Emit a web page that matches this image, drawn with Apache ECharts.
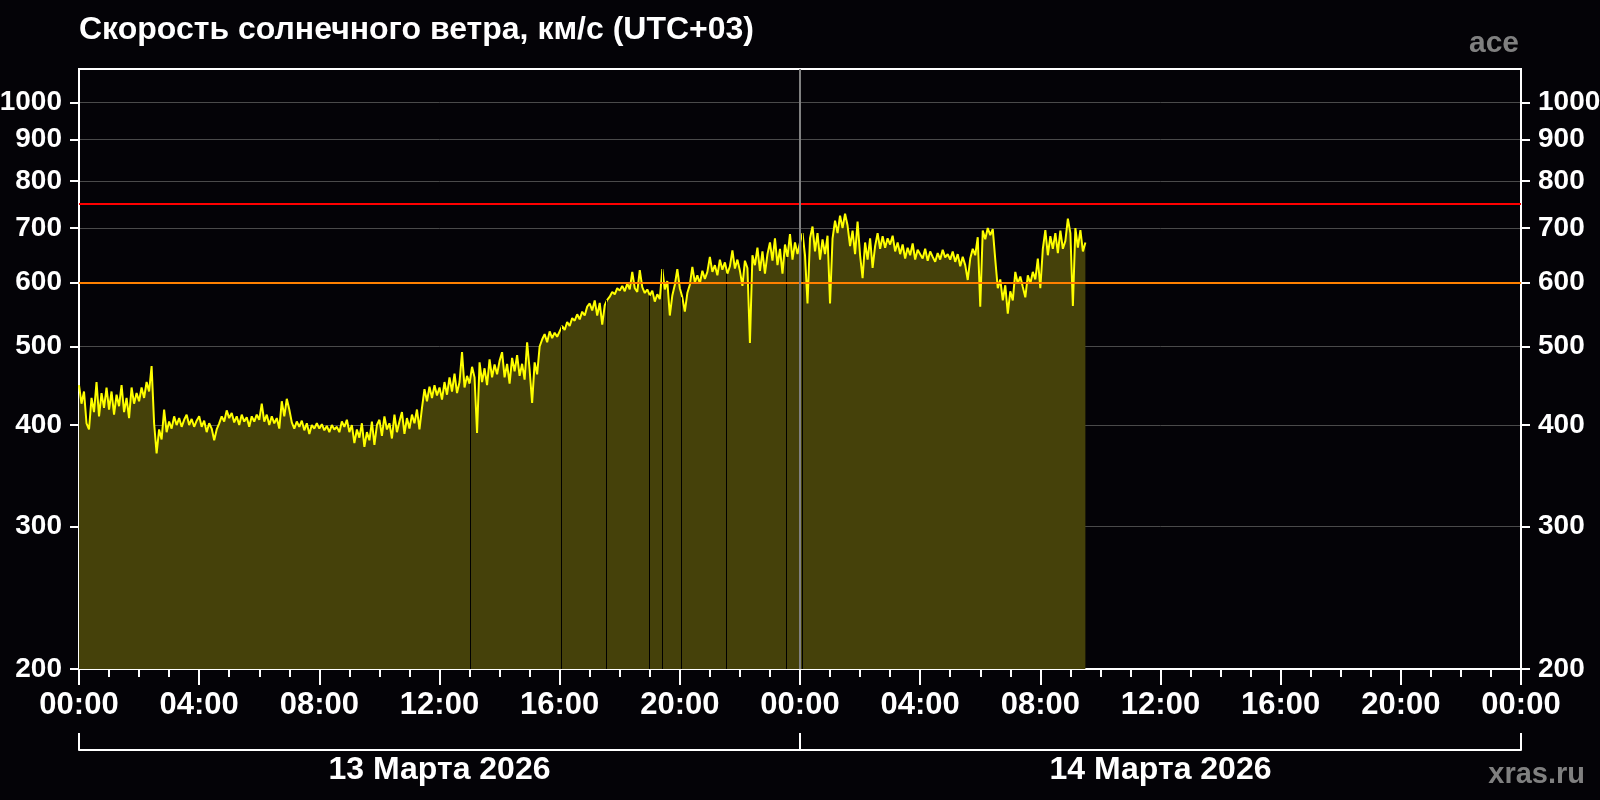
<!DOCTYPE html>
<html><head><meta charset="utf-8">
<script src="https://cdn.jsdelivr.net/npm/echarts@6/dist/echarts.min.js"></script>
<style>html,body{margin:0;padding:0;background:#040307;}#c{width:1600px;height:800px;}</style>
</head><body><div id="c"></div>
<script>
// ---- text ----
const titleText = 'Скорость солнечного ветра, км/с (UTC+03)';
const sourceLabel = 'ace';
const siteLabel = 'xras.ru';
const dayLabels = ['13 Марта 2026', '14 Марта 2026'];
const yTicks = [200, 300, 400, 500, 600, 700, 800, 900, 1000];

// ---- data: solar wind speed, km/s, every 5 minutes (hours from 13 March 00:00, UTC+03) ----
const stepMinutes = 5;
const v13_00 = [
  448, 425, 440, 402, 395, 432, 415, 452, 410, 438, 420, 445,
  418, 440, 412, 436, 422, 448, 415, 432, 408, 445, 425, 438,
  428, 445, 432, 452, 440, 473, 402, 369, 395, 384, 418, 392,
  404, 396, 410, 400, 408, 398, 406, 412, 400, 407, 398, 405,
  410, 398, 405, 392, 402, 396, 383, 395, 402, 410, 404, 417,
  408, 414, 403, 410, 400, 412, 404, 409, 398, 410, 404, 412];
const v13_06 = [
  406, 425, 404, 412, 400, 410, 402, 408, 396, 428, 410, 431,
  418, 403, 396, 404, 398, 405, 394, 402, 390, 400, 396, 402,
  396, 401, 394, 399, 392, 400, 395, 398, 392, 404, 398, 406,
  392, 400, 380, 395, 386, 402, 376, 392, 383, 404, 378, 400,
  406, 388, 410, 395, 402, 385, 412, 392, 404, 415, 390, 408,
  396, 412, 402, 418, 395, 420, 443, 428, 446, 432, 448, 435];
const v13_12 = [
  445, 430, 452, 436, 458, 440, 463, 438, 452, 492, 445, 460,
  450, 472, 458, 391, 478, 452, 470, 448, 482, 458, 475, 462,
  480, 492, 458, 476, 450, 484, 466, 488, 460, 476, 455, 506,
  468, 426, 478, 462, 500, 510, 518, 506, 522, 512, 520, 514,
  522, 530, 524, 536, 530, 542, 538, 548, 540, 552, 546, 560,
  565, 554, 570, 546, 566, 532, 562, 571, 576, 584, 580, 590];
const v13_18 = [
  586, 594, 585, 598, 588, 618, 590, 584, 621, 592, 582, 588,
  578, 586, 568, 580, 572, 623, 588, 602, 546, 578, 596, 623,
  590, 575, 552, 582, 596, 627, 600, 612, 598, 620, 606, 618,
  645, 618, 630, 612, 640, 622, 635, 615, 628, 657, 624, 640,
  620, 594, 638, 625, 505, 648, 630, 662, 620, 655, 615, 650,
  672, 638, 680, 630, 660, 615, 668, 645, 688, 640, 672, 650];
const v14_00 = [
  672, 690, 648, 565, 680, 703, 655, 690, 640, 678, 650, 685,
  565, 680, 715, 690, 725, 700, 729, 705, 665, 695, 650, 713,
  648, 607, 672, 640, 680, 625, 665, 690, 660, 684, 662, 680,
  668, 685, 655, 672, 650, 668, 642, 662, 648, 670, 640, 658,
  650, 642, 660, 638, 655, 645, 636, 652, 640, 658, 644, 650,
  640, 655, 636, 650, 628, 645, 630, 604, 642, 660, 648, 682];
const v14_06 = [
  560, 695, 678, 700, 686, 698, 640, 590, 605, 570, 595, 549,
  585, 570, 618, 598, 610, 592, 575, 612, 598, 618, 605, 642,
  590, 660, 696, 648, 684, 660, 690, 652, 695, 660, 675, 719,
  690, 561, 700, 662, 696, 655, 672];
const blockStartHours = [0, 6, 12, 18, 24, 30];
// times (hours) of missing measurements
const gapHours = [13.03, 16.06, 17.55, 18.98, 19.43, 20.06, 21.55, 23.55, 24.09];
const thresholdRed = 750;
const thresholdOrange = 600;
const dayBoundaryHour = 24;

// ---- build ----
const FF = "'Liberation Sans', Arial, sans-serif";
const blocks = [v13_00, v13_06, v13_12, v13_18, v14_00, v14_06];
const data = [];
blocks.forEach((arr, b) => arr.forEach((v, i) => data.push([blockStartHours[b] + i * stepMinutes / 60, v])));

function nearestValue(h) {
  let best = data[0];
  for (const d of data) if (Math.abs(d[0] - h) < Math.abs(best[0] - h)) best = d;
  return best[1];
}
const gapLines = gapHours.map(h => [
  { coord: [h, yTicks[0]], lineStyle: { color: '#000000', width: 1, type: 'solid' } },
  { coord: [h, nearestValue(h)] }
]);

function yAxisOpt(pos) {
  return {
    type: 'log', logBase: 10, min: 200, max: 1100, position: pos,
    axisLine: { show: true, lineStyle: { color: '#ffffff', width: 2 } },
    axisTick: { show: true, inside: false, length: 9, customValues: yTicks, lineStyle: { color: '#ffffff', width: 2 } },
    axisLabel: { show: true, customValues: yTicks, formatter: v => String(Math.round(v)), color: '#ffffff', fontSize: 28, fontWeight: 'bold', fontFamily: FF, margin: 17 },
    splitLine: { show: pos === 'left', lineStyle: { color: '#4a4a4a', width: 1 } },
    minorTick: { show: false }, minorSplitLine: { show: false }
  };
}

const chart = echarts.init(document.getElementById('c'), null, { renderer: 'canvas' });
chart.setOption({
  animation: false,
  backgroundColor: '#040307',
  title: [
    { text: titleText, left: 79, top: 14, padding: 0, textStyle: { color: '#ffffff', fontSize: 32, fontWeight: 'bold', fontFamily: FF } },
    { text: sourceLabel, right: 81, top: 29, padding: 0, textStyle: { color: '#808080', fontSize: 30, fontWeight: 'bold', fontFamily: FF } },
    { text: siteLabel, right: 15, top: 760, padding: 0, textStyle: { color: '#808080', fontSize: 29, fontWeight: 'bold', fontFamily: FF } }
  ],
  grid: { left: 79, right: 79, top: 69, bottom: 131, containLabel: false, outerBoundsMode: 'none',
          show: true, borderColor: '#ffffff', borderWidth: 2, backgroundColor: 'transparent' },
  xAxis: [
    {
      type: 'value', min: 0, max: 48, interval: 4, position: 'bottom',
      axisLine: { lineStyle: { color: '#ffffff', width: 2 } },
      axisTick: { show: true, length: 16, lineStyle: { color: '#ffffff', width: 2 } },
      minorTick: { show: true, splitNumber: 4, length: 8, lineStyle: { color: '#ffffff', width: 2 } },
      axisLabel: {
        color: '#ffffff', fontSize: 31, fontWeight: 'bold', fontFamily: FF, margin: 21,
        showMinLabel: true, showMaxLabel: true,
        formatter: v => String(v % 24).padStart(2, '0') + ':00'
      },
      splitLine: { show: false }
    },
    {
      type: 'category', data: dayLabels, position: 'bottom', offset: 81, boundaryGap: true,
      axisLine: { lineStyle: { color: '#ffffff', width: 2 } },
      axisTick: { show: true, inside: true, length: 17, alignWithLabel: false, lineStyle: { color: '#ffffff', width: 2 } },
      axisLabel: { color: '#ffffff', fontSize: 32, fontWeight: 'bold', fontFamily: FF, margin: 4, interval: 0 },
      splitLine: { show: false }
    }
  ],
  yAxis: [yAxisOpt('left'), yAxisOpt('right')],
  series: [{
    type: 'line', data: data, xAxisIndex: 0, yAxisIndex: 0,
    showSymbol: false, symbol: 'none',
    lineStyle: { color: '#ffff00', width: 2 },
    itemStyle: { color: '#ffff00' },
    areaStyle: { color: '#45410a', opacity: 1, origin: 'start' },
    markLine: {
      silent: true, symbol: 'none', label: { show: false }, animation: false,
      data: gapLines.concat([
        { yAxis: thresholdRed, lineStyle: { color: '#ff0000', width: 2, type: 'solid' } },
        { yAxis: thresholdOrange, lineStyle: { color: '#ff8000', width: 2, type: 'solid' } },
        { xAxis: dayBoundaryHour, lineStyle: { color: '#808080', width: 2, type: 'solid' } }
      ])
    }
  }]
});
</script></body></html>
